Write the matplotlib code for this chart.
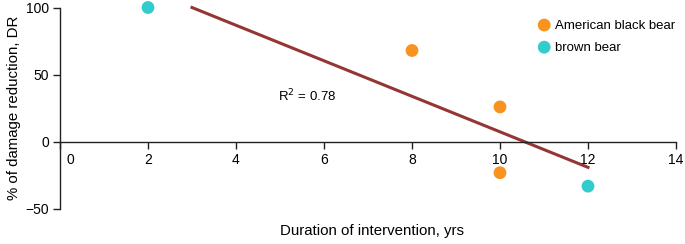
import matplotlib
matplotlib.use('Agg')
import matplotlib.pyplot as plt
import matplotlib.transforms as mtransforms

plt.rcParams['font.family'] = ['Liberation Sans', 'DejaVu Sans']

# data
black_x = [8, 10, 10]
black_y = [68, 26, -23]
brown_x = [2, 12]
brown_y = [100, -33]
fit_x = [3, 12]
fit_y = [100, -19]
r2_label = 'R$^2$ = 0.78'
x_ticks = [0, 2, 4, 6, 8, 10, 12, 14]
y_ticks = [-50, 0, 50, 100]

orange = '#F7931E'
cyan = '#33CCCC'
red = '#943634'

fig = plt.figure(figsize=(6.85, 2.44), dpi=100)
ax = fig.add_axes([60 / 685, 1 - 209 / 244, 616 / 685, 201.5 / 244])

ax.plot(fit_x, fit_y, color=red, linewidth=2.2, clip_on=False, zorder=2)
ax.scatter(black_x, black_y, s=85, color=orange, edgecolor='none',
           label='American black bear', clip_on=False, zorder=3)
ax.scatter(brown_x, brown_y, s=85, color=cyan, edgecolor='none',
           label='brown bear', clip_on=False, zorder=3)

ax.text(4.95, 34, r2_label, fontsize=9.5, va='center', ha='left')

ax.set_xlim(0, 14)
ax.set_ylim(-50, 100)
ax.set_xticks(x_ticks)
ax.set_yticks(y_ticks)
ax.tick_params(labelsize=10, length=5, width=1, color='#222222', pad=3)

ax.spines['top'].set_visible(False)
ax.spines['right'].set_visible(False)
ax.spines['bottom'].set_position(('data', 0))
for s in ('left', 'bottom'):
    ax.spines[s].set_color('#222222')
    ax.spines[s].set_linewidth(1)

# nudge the "0" x label off the y spine
fig.canvas.draw()
lab0 = ax.get_xticklabels()[0]
lab0.set_transform(lab0.get_transform() +
                   mtransforms.ScaledTranslation(10 / 100, 0, fig.dpi_scale_trans))

ax.set_xlabel('Duration of intervention, yrs', fontsize=10.8)
ax.xaxis.set_label_coords(372 / 685, 1 - 224 / 244, transform=fig.transFigure)
ax.set_ylabel('% of damage reduction, DR', fontsize=10.8)
ax.yaxis.set_label_coords(21 / 685, 1 - 108 / 244, transform=fig.transFigure)

ax.legend(loc='upper left', bbox_to_anchor=(531 / 685, 1 - 14 / 244),
          bbox_transform=fig.transFigure, frameon=False, fontsize=9.5,
          handletextpad=0.2, labelspacing=0.75, borderaxespad=0,
          handlelength=1.2)

plt.savefig('out.png', dpi=100)
